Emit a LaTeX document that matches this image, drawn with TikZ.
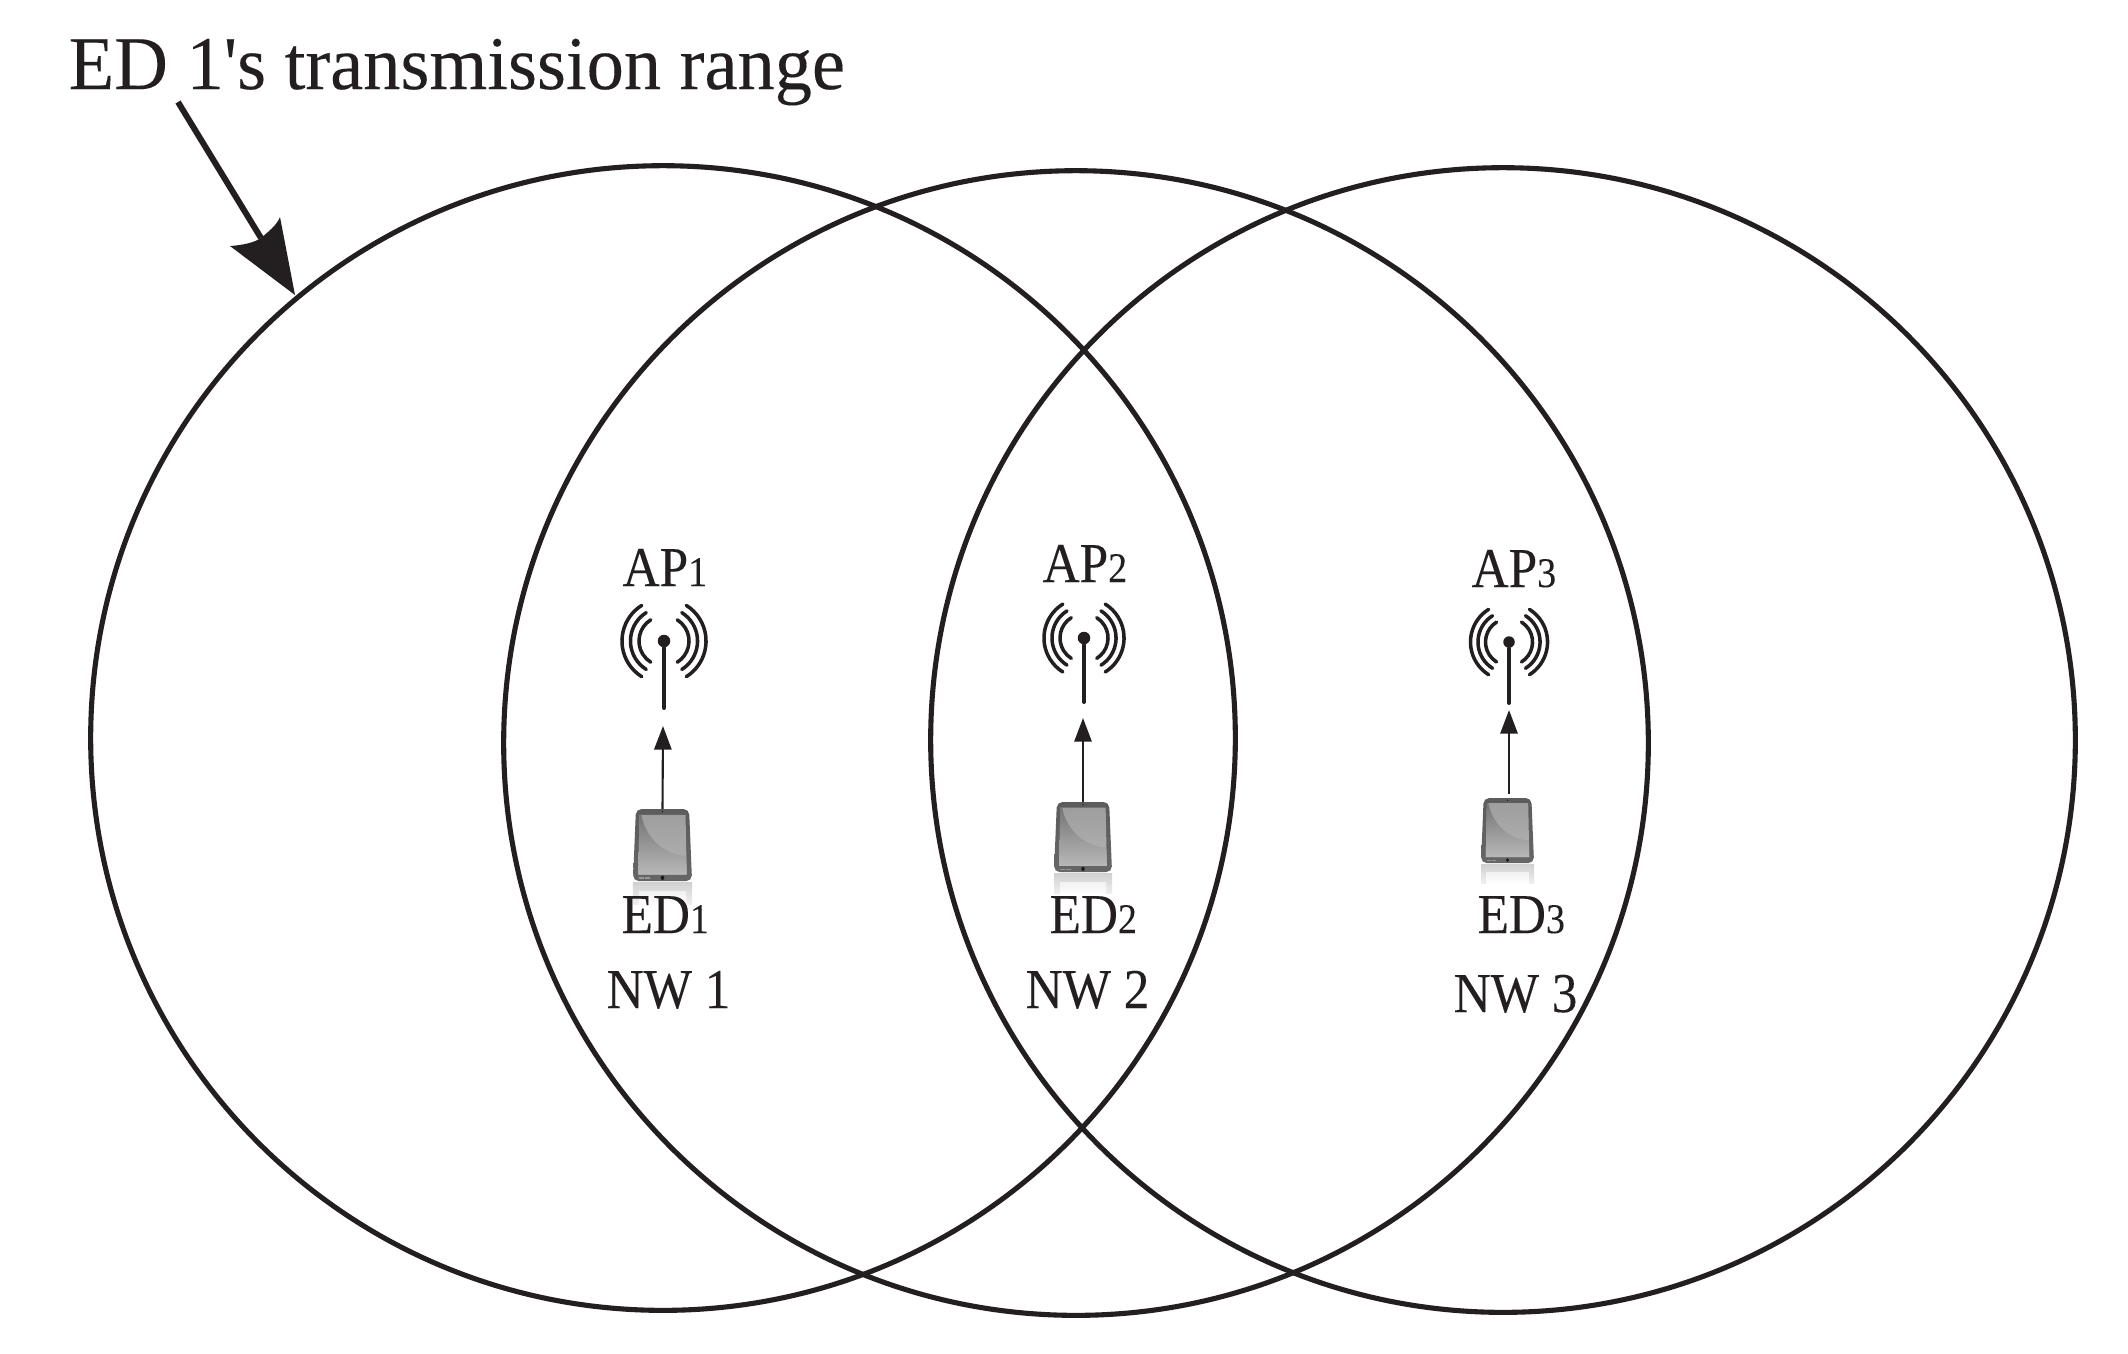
\documentclass[tikz,border=0pt]{standalone}
\usepackage{fontspec}
\setmainfont{Liberation Serif}
\newfontfamily\labfont{Liberation Serif}[FakeStretch=.91,FakeBold=.15]
\newfontfamily\digfont{Liberation Serif}[FakeStretch=.9,FakeBold=.1]
\newfontfamily\titlefont{Liberation Serif}[FakeStretch=.98,FakeBold=.15]
\usetikzlibrary{arrows.meta}
\newcommand\subdig[1]{{\digfont\fontsize{12}{13}\selectfont #1}}
\definecolor{ink}{HTML}{231F20}
\tikzset{
  rangecircle/.style={draw=ink,line width=1.45pt,circle,inner sep=0pt,minimum size=11.44cm},
  lab/.style={anchor=base west,inner sep=0pt,text=ink,font=\labfont\fontsize{16}{18}\selectfont},
  nwlab/.style={lab},
  titlelab/.style={anchor=base west,inner sep=0pt,text=ink,font=\titlefont\fontsize{21.6}{24}\selectfont},
  apdot/.style={circle,fill=ink,inner sep=0pt,minimum size=.125cm},
  mast/.style={draw=ink,line width=1.1pt,line cap=round},
  wave/.style={draw=ink,line width=1pt,line cap=round},
  sig/.style={draw=ink,line width=.6pt,-{Triangle[length=6.7pt,width=4.9pt]}},
  devbox/.style={inner sep=0pt,outer sep=0pt},
}
% device: #1 node name, #2 x-size, #3 y-size, #4 reflection height
\newcommand\devicebody[4]{%
  \begin{scope}[shift={(#1.north)},x=#2,y=-#3]
    % reflection
    \shade[top color=black!18,bottom color=black!6] (-.5,1.02) rectangle (.5,1.02+#4);
    \shade[top color=black!5,bottom color=white] (-.4,1.15) rectangle (.4,1.02+#4);
    % body
    \shade[top color=black!64,bottom color=black!60,rounded corners=1.6pt]
      (-.45,0) -- (.45,0) -- (.5,1) -- (-.5,1) -- cycle;
    % screen
    \shade[top color=black!38,bottom color=black!30]
      (-.39,.08) -- (.39,.08) -- (.41,.91) -- (-.41,.91) -- cycle;
    \shade[top color=black!54,bottom color=black!28]
      (-.36,.08) .. controls (-.28,.42) and (.05,.64) .. (.40,.65) -- (.41,.91) -- (-.41,.91) -- (-.39,.08) -- cycle;
    % home button and speaker details
    \fill[black!90] (0,.955) circle[radius=.03];
    \fill[black!40] (-.39,.95) rectangle (-.31,.97);
    \fill[black!40] (-.29,.95) rectangle (-.21,.97);
    \fill[black!90] (0,.035) circle[radius=.012];
  \end{scope}}
\newcommand\apwaves[4]{%
  \foreach \r in {#2,#3,#4}{
    \draw[wave] (#1) ++(-58:\r) arc[start angle=-58,end angle=58,radius=\r];
    \draw[wave] (#1) ++(122:\r) arc[start angle=122,end angle=238,radius=\r];
  }}
\begin{document}
\begin{tikzpicture}[x=.01cm,y=-.01cm]
\useasboundingbox (0,0) rectangle (2128,1353);
\fill[white] (0,0) rectangle (2128,1353);
% ranges
\node[rangecircle] (r1) at (663,738) {};
\node[rangecircle] (r2) at (1076,743) {};
\node[rangecircle] (r3) at (1503,740) {};
% title and pointer
\node[titlelab] (title) at (68,89) {ED 1's transmission range};
\coordinate (ptrstart) at (178,102);
\coordinate (ptrtip) at (295,295);
\coordinate (ptrend) at (261,238);
\draw[draw=ink,line width=1.7pt] (ptrstart) -- (ptrend);
\fill[ink] (ptrtip) -- (230,246) .. controls (245,245) and (255,242) .. (ptrend)
   .. controls (268,232) and (277,225) .. (280,217) -- cycle;
% network 1
\node[lab] (ap1label) at (622,586) {AP\subdig{1}};
\node[apdot] (ap1) at (664,641) {};
\apwaves{ap1}{.42cm}{.335cm}{.25cm}
\coordinate (ap1foot) at (664,708);
\draw[mast] (ap1) -- (ap1foot);
\coordinate (ap1tip) at (663,726);
\node[devbox,minimum width=.59cm,minimum height=.72cm] (dev1) at (662.5,845) {};
\devicebody{dev1}{.59cm}{.72cm}{.3}
\draw[sig] (dev1.north) -- (ap1tip);
\node[lab] (ed1label) at (621,933) {ED\subdig{1}};
\node[nwlab] (nw1) at (606,1008) {NW 1};
% network 2
\node[lab] (ap2label) at (1042,582) {AP\subdig{2}};
\node[apdot] (ap2) at (1084,638) {};
\apwaves{ap2}{.40cm}{.32cm}{.24cm}
\coordinate (ap2foot) at (1084,702);
\draw[mast] (ap2) -- (ap2foot);
\coordinate (ap2tip) at (1083,718);
\node[devbox,minimum width=.58cm,minimum height=.70cm] (dev2) at (1083,837) {};
\devicebody{dev2}{.58cm}{.70cm}{.29}
\draw[sig] (dev2.north) -- (ap2tip);
\node[lab] (ed2label) at (1049,933) {ED\subdig{2}};
\node[nwlab] (nw2) at (1025,1008) {NW 2};
% network 3
\node[lab] (ap3label) at (1471,587) {AP\subdig{3}};
\node[apdot,minimum size=.115cm] (ap3) at (1509,642) {};
\apwaves{ap3}{.385cm}{.31cm}{.235cm}
\coordinate (ap3foot) at (1509,703);
\draw[mast] (ap3) -- (ap3foot);
\coordinate (ap3tip) at (1509,710);
\node[devbox,minimum width=.53cm,minimum height=.65cm] (dev3) at (1507.5,830.5) {};
\devicebody{dev3}{.53cm}{.65cm}{.3}
\coordinate (ed3out) at (1509,794);
\draw[sig] (ed3out) -- (ap3tip);
\node[lab] (ed3label) at (1477,933) {ED\subdig{3}};
\node[nwlab] (nw3) at (1453,1012) {NW 3};
\end{tikzpicture}
\end{document}
